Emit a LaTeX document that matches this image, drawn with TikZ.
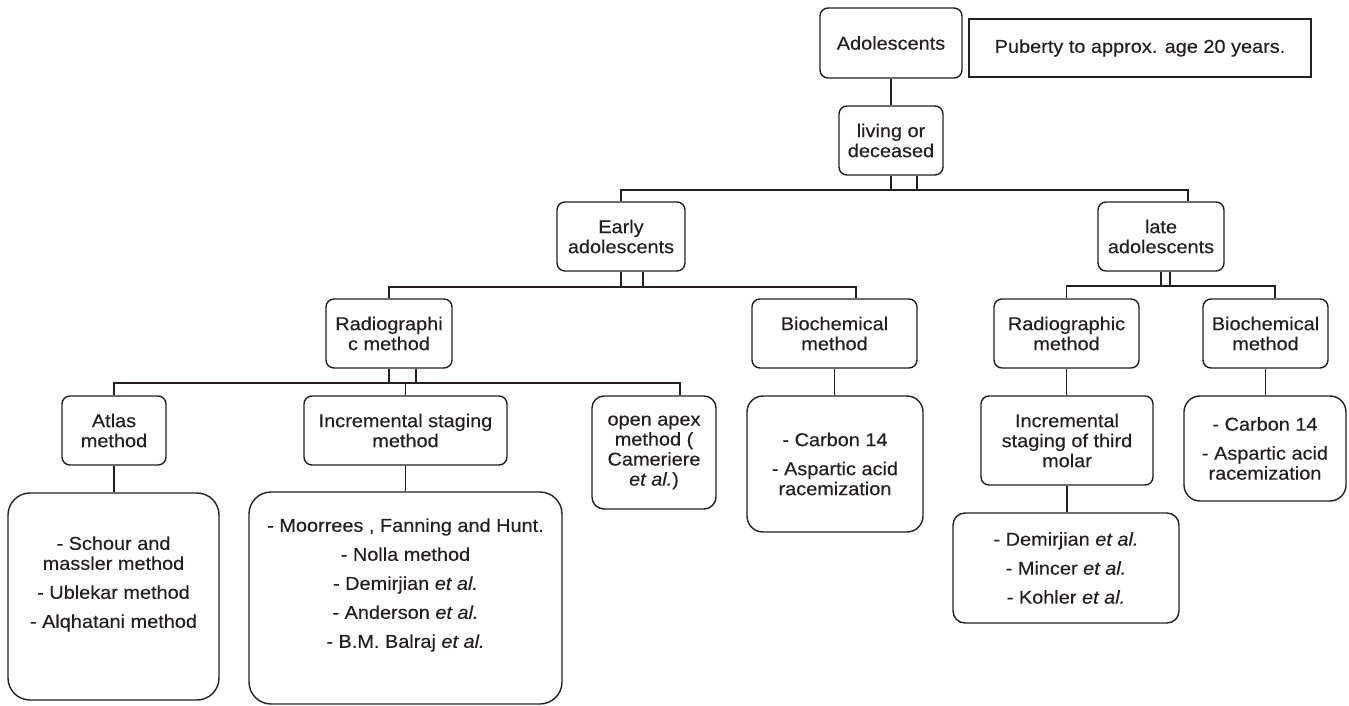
\documentclass[tikz,border=0pt]{standalone}
\usepackage{fontspec}
\setmainfont{Liberation Sans}[FakeStretch=1.07,FakeBold=0.3]
\definecolor{ink}{RGB}{35,31,32}
\newcommand\fsz{\fontsize{9.3pt}{10pt}\selectfont}
\newcommand\myetal{\textit{et al.}}
\begin{document}
\begin{tikzpicture}[x=0.5pt,y=-0.5pt, line width=0.7pt, color=ink,
  box/.style={draw, rounded corners=4pt, inner sep=0pt, align=center, font=\fsz},
  plain/.style={inner sep=0pt, align=center, font=\fsz}]
\useasboundingbox (0,0) rectangle (1349,706);
% boxes
\node[box, minimum width=71pt, minimum height=35pt] (ado) at (891,43) {Adolescents};
\node[box, sharp corners, minimum width=171pt, minimum height=29pt] (pub) at (1140,48) {Puberty to approx. age 20 years.};
\node[box, minimum width=52pt, minimum height=34.5pt] (liv) at (891,140.5) {living or\\deceased};
\node[box, minimum width=64pt, minimum height=34.5pt] (early) at (621,236.5) {Early\\adolescents};
\node[box, minimum width=63pt, minimum height=34.5pt] (late) at (1161,236.5) {late\\adolescents};
\node[box, minimum width=63pt, minimum height=34.5pt] (rad1) at (389,333.5) {Radiographi\\c method};
\node[box, minimum width=82.5pt, minimum height=34.5pt] (bio1) at (834.5,333.5) {Biochemical\\method};
\node[box, minimum width=72.5pt, minimum height=34.5pt] (rad2) at (1066.5,333.5) {Radiographic\\method};
\node[box, minimum width=62.5pt, minimum height=34.5pt] (bio2) at (1265.5,333.5) {Biochemical\\method};
\node[box, minimum width=52pt, minimum height=34.5pt] (atlas) at (114,430.5) {Atlas\\method};
\node[box, minimum width=101.5pt, minimum height=34.5pt] (inc) at (405.5,430.5) {Incremental staging\\method};
\node[box, rounded corners=6pt, minimum width=62pt, minimum height=56.5pt] (apex) at (654,452.5) {open apex\\method (\\Cameriere\\\myetal)};
\node[box, rounded corners=11pt, minimum width=105.5pt, minimum height=103.5pt] (atlasL) at (113.5,596.5) {};
\node[plain] (atlasT) at (113.5,584) {- Schour and\\massler method\\[4.5pt]- Ublekar method\\[4.5pt]- Alqhatani method};
\node[box, rounded corners=11pt, minimum width=156.5pt, minimum height=106pt] (incL) at (405.5,598) {};
\node[plain] (incT) at (405.5,585) {- Moorrees , Fanning and Hunt.\\[4.5pt]- Nolla method\\[4.5pt]- Demirjian \myetal\\[4.5pt]- Anderson \myetal\\[4.5pt]- B.M. Balraj \myetal};
\node[box, rounded corners=8pt, minimum width=88pt, minimum height=68pt] (bio1L) at (835,464) {- Carbon 14\\[4.5pt]- Aspartic acid\\racemization};
\node[box, minimum width=86pt, minimum height=44.5pt] (inc3) at (1067,440.5) {Incremental\\staging of third\\molar};
\node[box, rounded corners=6pt, minimum width=113pt, minimum height=55pt] (late3L) at (1066,568) {- Demirjian \myetal\\[4.5pt]- Mincer \myetal\\[4.5pt]- Kohler \myetal};
\node[box, rounded corners=8pt, minimum width=81pt, minimum height=52.5pt] (bio2L) at (1265,448.5) {- Carbon 14\\[4.5pt]- Aspartic acid\\racemization};
% bus coordinates
\coordinate (b1L) at (621,190); \coordinate (b1R) at (1188,190);
\coordinate (b2L) at (389,287); \coordinate (b2R) at (856,287);
\coordinate (b3L) at (114,383); \coordinate (b3R) at (680,383);
\coordinate (b4L) at (1066.5,286); \coordinate (b4R) at (1275,286);
% connectors
\draw (ado) -- (liv);
\draw (liv.south) -- (liv.south |- b1L);
\draw ([xshift=13pt]liv.south) -- ([xshift=13pt]liv.south |- b1L);
\draw (early.north) -- (b1L) -- (b1R) -- (b1R |- late.north);
\draw (early.south) -- (early.south |- b2L);
\draw ([xshift=11pt]early.south) -- ([xshift=11pt]early.south |- b2L);
\draw (rad1.north) -- (b2L) -- (b2R) -- (b2R |- bio1.north);
\draw (rad1.south) -- (rad1.south |- b3L);
\draw ([xshift=13.5pt]rad1.south) -- ([xshift=13.5pt]rad1.south |- b3L);
\draw (atlas.north) -- (b3L) -- (b3R) -- (b3R |- apex.north);
\draw (inc.north) -- (inc.north |- b3L);
\draw (late.south) -- (late.south |- b4L);
\draw ([xshift=4.5pt]late.south) -- ([xshift=4.5pt]late.south |- b4L);
\draw (rad2.north) -- (b4L) -- (b4R) -- (b4R |- bio2.north);
\draw (atlas.south) -- (atlas.south |- atlasL.north);
\draw (inc.south) -- (inc.south |- incL.north);
\draw (bio1.south) -- (bio1.south |- bio1L.north);
\draw (rad2.south) -- (rad2.south |- inc3.north);
\draw (inc3.south) -- (inc3.south |- late3L.north);
\draw (bio2.south) -- (bio2.south |- bio2L.north);
\end{tikzpicture}
\end{document}
